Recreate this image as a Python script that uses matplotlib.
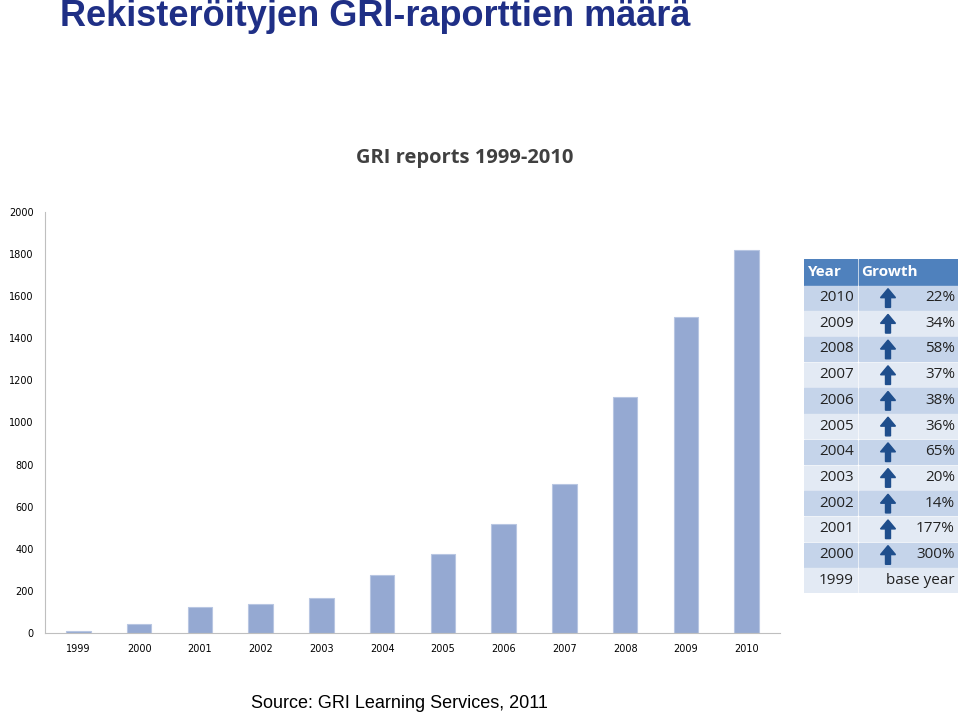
import matplotlib
matplotlib.use("Agg")
import matplotlib.pyplot as plt
from matplotlib.patches import Rectangle, FancyArrow

years = ["1999","2000","2001","2002","2003","2004","2005","2006","2007","2008","2009","2010"]
reports = [11, 44, 122, 139, 167, 275, 375, 517, 708, 1119, 1499, 1820]
table_years = ["2010","2009","2008","2007","2006","2005","2004","2003","2002","2001","2000","1999"]
table_growth = ["22%","34%","58%","37%","38%","36%","65%","20%","14%","177%","300%","base year"]
yticks = [0,200,400,600,800,1000,1200,1400,1600,1800,2000]

W, H = 960, 714
fig = plt.figure(figsize=(9.6, 7.14), dpi=100)
fig.text(60/W, 1-17/H, "Rekisteröityjen GRI-raporttien määrä", fontsize=26, fontweight="bold",
         color="#1F2F86", va="center", ha="left", family="Liberation Sans")
fig.text(465/W, 1-158/H, "GRI reports 1999-2010", fontsize=14.5, fontweight="bold",
         color="#404040", va="center", ha="center", family="Open Sans")
fig.text(399/W, 1-703/H, "Source: GRI Learning Services, 2011", fontsize=13,
         color="black", va="center", ha="center", family="Liberation Sans")

ax = fig.add_axes([45/W, 1-633/H, 735/W, 421/H])
x = range(len(years))
ax.bar(x, reports, width=0.4, color="#95A9D2", edgecolor="#B8C6E2", linewidth=0.8)
ax.set_xlim(-0.55, len(years)-0.45)
ax.set_ylim(0, 2000)
ax.set_yticks(yticks)
ax.set_yticklabels([str(v) for v in yticks], fontsize=7)
ax.set_xticks(list(x))
ax.set_xticklabels(years, fontsize=7)
ax.tick_params(length=0, pad=8)
for s in ["top", "right"]:
    ax.spines[s].set_visible(False)
for s in ["left", "bottom"]:
    ax.spines[s].set_color("#BFBFBF")

# growth table
tx0, ty0, tw, th = 804, 259, 154, 334
tab = fig.add_axes([tx0/W, 1-(ty0+th)/H, tw/W, th/H])
n = len(table_years) + 1
rh = th / n
tab.set_xlim(0, tw)
tab.set_ylim(th, 0)
tab.axis("off")
c1 = 53
tab.add_patch(Rectangle((0, 0), c1, rh, color="#4F81BD"))
tab.add_patch(Rectangle((c1+1.5, 0), tw-c1-1.5, rh, color="#4F81BD"))
tab.text(4, rh/2, "Year", color="white", fontsize=11, fontweight="bold", va="center", family="Open Sans")
tab.text(c1+4, rh/2, "Growth", color="white", fontsize=11, fontweight="bold", va="center", family="Open Sans")
for i, (yy, g) in enumerate(zip(table_years, table_growth)):
    y0 = (i+1)*rh
    col = "#C5D4EA" if i % 2 == 0 else "#E3EAF4"
    tab.add_patch(Rectangle((0, y0+1), c1, rh-1.5, color=col))
    tab.add_patch(Rectangle((c1+1.5, y0+1), tw-c1-1.5, rh-1.5, color=col))
    tab.text(c1-3, y0+rh/2, yy, fontsize=11, ha="right", va="center", color="#222222", family="Open Sans")
    tab.text(tw-3, y0+rh/2, g, fontsize=11, ha="right", va="center", color="#222222", family="Open Sans")
    if g != "base year":
        tab.add_patch(FancyArrow(c1+31, y0+rh-3, 0, -(rh-7), width=5, head_width=15,
                                 head_length=9, length_includes_head=True, color="#1F4E8C"))

fig.savefig("out.png", dpi=100)
